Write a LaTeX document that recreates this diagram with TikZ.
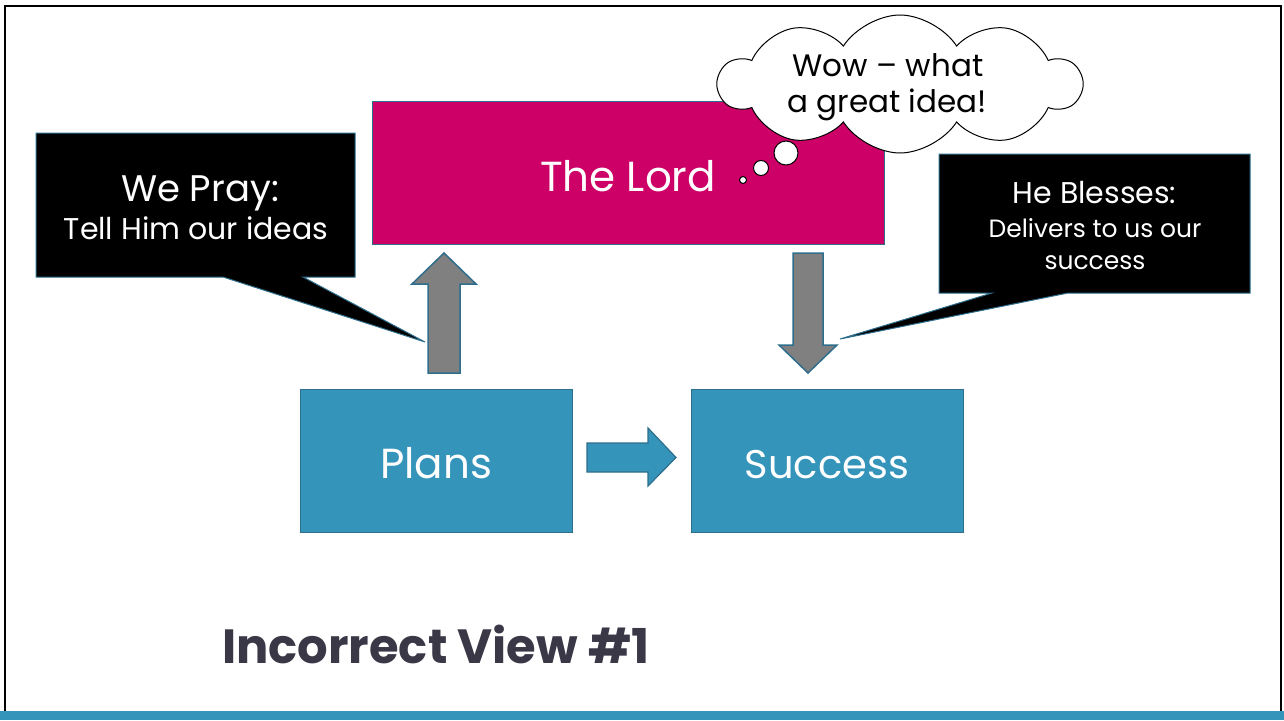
\documentclass[tikz,border=0pt]{standalone}
\usepackage{fontspec}
\setmainfont{Poppins}
\usetikzlibrary{shapes.symbols,calc}
\definecolor{teal}{HTML}{3494BA}
\definecolor{tealdark}{HTML}{2E6E8C}
\definecolor{lordc}{HTML}{CC0066}
\definecolor{titlec}{HTML}{3A3847}
\definecolor{arrowgray}{HTML}{808080}
\begin{document}
\begin{tikzpicture}[x=1pt,y=-1pt,
  box/.style={draw=tealdark,line width=1pt,fill=teal,minimum width=272pt,minimum height=143pt,inner sep=0pt},
  boxtext/.style={text=white,font=\fontsize{42}{48}\selectfont,anchor=base,inner sep=0pt},
  callout/.style={fill=black,draw=tealdark,line width=1pt,line join=miter},
  blockarrow/.style={fill=arrowgray,draw=tealdark,line width=1.5pt,line join=miter},
  bluearrow/.style={fill=teal,draw=tealdark,line width=1.2pt,line join=miter},
  calltext/.style={text=white,anchor=base,inner sep=0pt}]
\useasboundingbox (0,0) rectangle (1284,720);
\fill[white] (0,0) rectangle (1284,720);
% frame
\draw[black,line width=2pt] (5,720) -- (5,6) -- (1281,6) -- (1281,720);
\fill[teal] (0,711) rectangle (1284,720);
% Lord box
\node[box,fill=lordc,minimum width=512pt,minimum height=143pt] (lord) at (628,172.5) {};
\node[boxtext] (lordt) at (628,191) {The Lord};
% Plans / Success
\node[box] (plans) at (436,460.5) {};
\node[boxtext] (planst) at (436,478) {Plans};
\node[box] (success) at (827,460.5) {};
\node[boxtext,font=\fontsize{40}{46}\selectfont] (successt) at (827,478) {Success};
% up arrow (Plans -> Lord)
\coordinate (upb) at (444,373);
\coordinate (upt) at (444,253);
\draw[blockarrow] ($(upb)+(-16,0)$) -- ($(upt)+(-16,31)$) -- ($(upt)+(-32,31)$) -- (upt)
  -- ($(upt)+(32,31)$) -- ($(upt)+(16,31)$) -- ($(upb)+(16,0)$) -- cycle;
% down arrow (Lord -> Success)
\coordinate (dnt) at (808,253);
\coordinate (dnb) at (808,373);
\draw[blockarrow] ($(dnt)+(-15,0)$) -- ($(dnb)+(-15,-28)$) -- ($(dnb)+(-29,-28)$) -- (dnb)
  -- ($(dnb)+(29,-28)$) -- ($(dnb)+(15,-28)$) -- ($(dnt)+(15,0)$) -- cycle;
% right arrow (Plans -> Success)
\coordinate (rt) at (587,457.5);
\coordinate (rh) at (676,457.5);
\draw[bluearrow] ($(rt)+(0,-14.5)$) -- ($(rh)+(-28,-14.5)$) -- ($(rh)+(-28,-29.5)$) -- (rh)
  -- ($(rh)+(-28,28.5)$) -- ($(rh)+(-28,14.5)$) -- ($(rt)+(0,14.5)$) -- cycle;
% left callout
\coordinate (lctip) at (425,342);
\draw[callout] (36,133) -- (355,133) -- (355,277) -- (303,277) -- (lctip) -- (223,277) -- (36,277) -- cycle;
\node[calltext,font=\fontsize{37}{42}\selectfont] (pray) at (200,201) {We Pray:};
\node[calltext,font=\fontsize{30}{34}\selectfont] (prayb) at (196,239) {Tell Him our ideas};
% right callout
\coordinate (rctip) at (840,339);
\draw[callout] (939,154) -- (1250,154) -- (1250,293) -- (1068,293) -- (rctip) -- (992,293) -- (939,293) -- cycle;
\node[calltext,font=\fontsize{30}{34}\selectfont] (bless) at (1094.5,203) {He Blesses:};
\node[calltext,font=\fontsize{25}{30}\selectfont] (blessb) at (1095,237) {Delivers to us our};
\node[calltext,font=\fontsize{25}{30}\selectfont] (blessc) at (1095,269) {success};
% thought cloud
\node[cloud,cloud puffs=10,cloud puff arc=115,aspect=2.6,draw=black,fill=white,line width=1pt,
  minimum width=362pt,minimum height=138pt,inner sep=0pt] (cloud) at (900,84) {};
\node[anchor=base,inner sep=0pt,font=\fontsize{31}{36}\selectfont] (wow1) at (888,76) {Wow – what};
\node[anchor=base,inner sep=0pt,font=\fontsize{31}{36}\selectfont] (wow2) at (887,112) {a great idea!};
\node[circle,draw=black,fill=white,line width=1pt,minimum size=24pt,inner sep=0pt] (b1) at (786,153) {};
\node[circle,draw=black,fill=white,line width=1pt,minimum size=15pt,inner sep=0pt] (b2) at (761,168) {};
\node[circle,draw=black,fill=white,line width=1pt,minimum size=7pt,inner sep=0pt] (b3) at (743,180) {};
% title
\node[anchor=base west,inner sep=0pt,text=titlec,font=\bfseries\fontsize{48}{54}\selectfont] (title) at (222,663) {Incorrect View \#1};
\end{tikzpicture}
\end{document}
